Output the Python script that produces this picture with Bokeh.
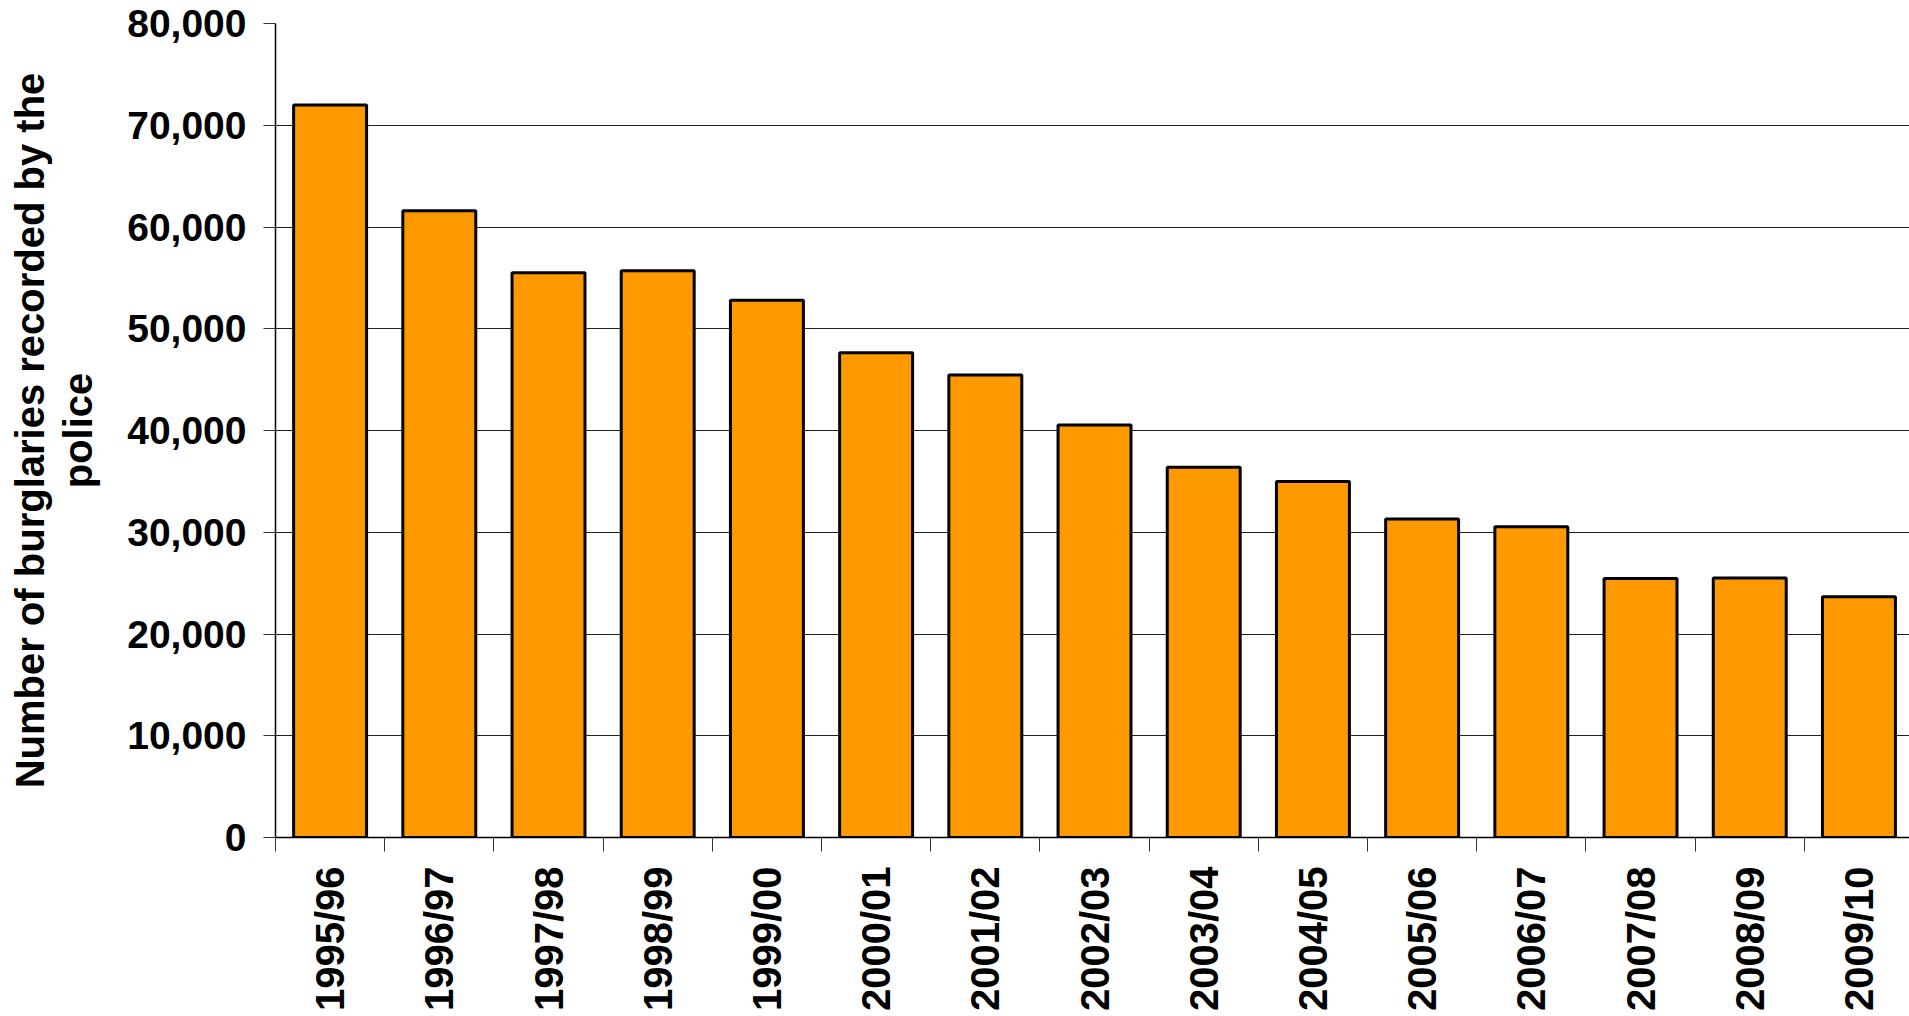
import math
from bokeh.plotting import figure
from bokeh.models import Range1d, FixedTicker, NumeralTickFormatter, Label
from bokeh.embed import file_html
from bokeh.resources import INLINE

# ---- data ----
years = ["1995/96", "1996/97", "1997/98", "1998/99", "1999/00", "2000/01",
         "2001/02", "2002/03", "2003/04", "2004/05", "2005/06", "2006/07",
         "2007/08", "2008/09", "2009/10"]
burglaries = [72000, 61600, 55500, 55700, 52800, 47650, 45450, 40550,
              36400, 35000, 31300, 30550, 25450, 25500, 23650]
y_ticks = [0, 10000, 20000, 30000, 40000, 50000, 60000, 70000, 80000]
title_text = "what it was in the mid 1990s"
y_title = "Number of burglaries recorded by the\npolice"

FONT = "Liberation Sans"
centers = [i + 0.5 for i in range(len(years))]
boundaries = list(range(len(years) + 1))

p = figure(width=1909, height=1015, output_backend="svg", toolbar_location=None,
           x_range=Range1d(0, 14.963), y_range=Range1d(0, 80000),
           min_border_left=275, min_border_right=0, min_border_top=23,
           min_border_bottom=178)
p.outline_line_color = None
p.background_fill_color = "white"
p.border_fill_color = "white"

p.vbar(x=centers, top=burglaries, width=0.668, bottom=0,
       fill_color="#FF9900", line_color="black", line_width=3)

# y axis
yax = p.yaxis[0]
yax.ticker = FixedTicker(ticks=y_ticks)
yax.formatter = NumeralTickFormatter(format="0,0")
yax.major_label_text_font = FONT
yax.major_label_text_font_style = "bold"
yax.major_label_text_font_size = "39px"
yax.major_label_text_color = "black"
yax.major_tick_out = 12
yax.major_tick_in = 0
yax.major_tick_line_color = "#333333"
yax.minor_tick_line_color = None
yax.major_label_standoff = 17
yax.axis_line_color = "black"
yax.axis_line_width = 1.5
yax.axis_label = y_title
yax.axis_label_text_font = FONT
yax.axis_label_text_font_style = "bold"
yax.axis_label_text_font_size = "40px"
yax.axis_label_text_line_height = 1.1
yax.axis_label_text_color = "black"
yax.axis_label_standoff = 24

# x axis
xax = p.xaxis[0]
xax.ticker = FixedTicker(ticks=centers, minor_ticks=boundaries)
xax.major_label_overrides = {c: y for c, y in zip(centers, years)}
xax.major_tick_line_color = None
xax.major_tick_out = 14
xax.major_tick_in = 0
xax.minor_tick_line_color = "#333333"
xax.minor_tick_out = 14
xax.minor_tick_in = 0
xax.major_label_orientation = math.pi / 2
xax.major_label_standoff = 15
xax.major_label_text_font = FONT
xax.major_label_text_font_style = "bold"
xax.major_label_text_font_size = "40px"
xax.major_label_text_color = "black"
xax.axis_line_color = "black"
xax.axis_line_width = 1.5

# grid
p.xgrid.grid_line_color = None
p.ygrid.ticker = FixedTicker(ticks=y_ticks)
p.ygrid.grid_line_color = "#222222"
p.ygrid.grid_line_width = 1

# partially visible title (cut off at the top like the reference)
p.add_layout(Label(x=808, y=829, x_units="screen", y_units="screen",
                   text=title_text, text_align="center", text_baseline="alphabetic",
                   text_font=FONT, text_font_style="bold",
                   text_font_size="40px", text_color="black"))

open("out.html", "w").write(file_html(p, INLINE))
